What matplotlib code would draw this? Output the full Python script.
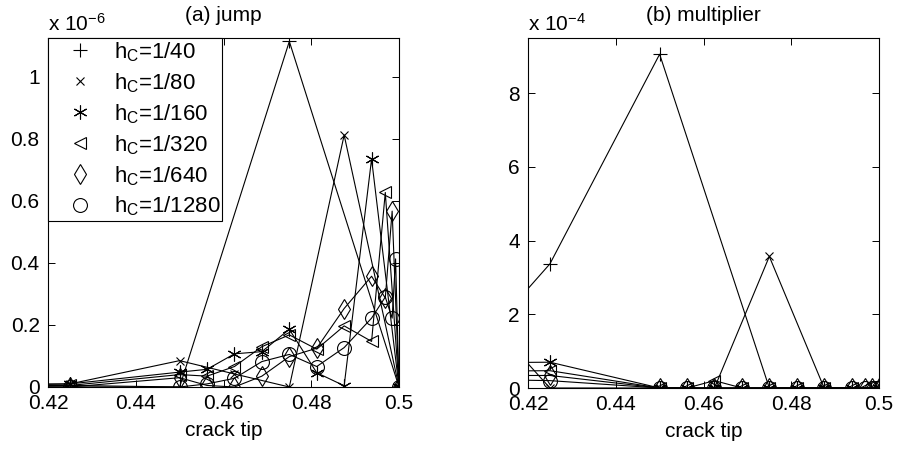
import matplotlib
matplotlib.use("Agg")
import matplotlib.pyplot as plt
from matplotlib.lines import Line2D

plt.rcParams['font.family'] = ['Liberation Sans', 'DejaVu Sans']
plt.rcParams['mathtext.fontset'] = 'custom'
plt.rcParams['mathtext.rm'] = 'Liberation Sans'
plt.rcParams['mathtext.it'] = 'Liberation Sans:italic'

# crack tip positions per mesh size
x_40 = [0.4, 0.425, 0.45, 0.475, 0.5]
x_80 = [0.4, 0.425, 0.45, 0.4625, 0.475, 0.4875, 0.5]
x_160 = [0.4, 0.425, 0.45, 0.45625, 0.4625, 0.46875, 0.475, 0.48125, 0.4875, 0.49375, 0.5]
x_320 = x_160[:-1] + [0.496875, 0.5]
x_640 = x_320[:-1] + [0.4984375, 0.5]
x_1280 = x_640[:-1] + [0.49921875, 0.5]

labels = ['h$_\\mathrm{C}$=1/40', 'h$_\\mathrm{C}$=1/80', 'h$_\\mathrm{C}$=1/160',
          'h$_\\mathrm{C}$=1/320', 'h$_\\mathrm{C}$=1/640', 'h$_\\mathrm{C}$=1/1280']

# (a) jump, units of 1e-6
jump_40 = [0.006, 0.005, 0.0, 1.114, 0.0]
jump_80 = [0.006, 0.01, 0.085, 0.042, 0.0, 0.812, 0.0]
jump_160 = [0.006, 0.01, 0.048, 0.057, 0.107, 0.114, 0.186, 0.046, 0.004, 0.735, 0.0]
jump_320 = [0.004, 0.005, 0.04, 0.035, 0.066, 0.13, 0.168, 0.122, 0.197, 0.147, 0.627, 0.0]
jump_640 = [0.002, 0.0, 0.03, 0.005, 0.0, 0.035, 0.098, 0.125, 0.253, 0.357, 0.287, 0.567, 0.0]
jump_1280 = [0.002, 0.0, 0.0, 0.01, 0.028, 0.082, 0.105, 0.066, 0.127, 0.222, 0.29, 0.222, 0.413, 0.0]

# (b) multiplier, units of 1e-4
mult_40 = [0.0, 3.37, 9.06, 0.0, 0.0]
mult_80 = [3.3, 0.0, 0.0, 0.0, 3.57, 0.0, 0.0]
mult_160 = [0.68, 0.70, 0.0, 0.0, 0.0, 0.0, 0.0, 0.0, 0.0, 0.0, 0.0]
mult_320 = [0.45, 0.47, 0.0, 0.0, 0.2, 0.0, 0.0, 0.0, 0.0, 0.0, 0.0, 0.0]
mult_640 = [0.34, 0.34, 0.0, 0.0, 0.0, 0.0, 0.0, 0.0, 0.0, 0.0, 0.0, 0.0, 0.0]
mult_1280 = [0.25, 0.2, 0.0, 0.0, 0.0, 0.0, 0.0, 0.0, 0.0, 0.0, 0.0, 0.0, 0.0, 0.0]

xs = [x_40, x_80, x_160, x_320, x_640, x_1280]
jumps = [jump_40, jump_80, jump_160, jump_320, jump_640, jump_1280]
mults = [mult_40, mult_80, mult_160, mult_320, mult_640, mult_1280]
markers = ['+', 'x', (6, 2, 0), '<', 'd', 'o']
msizes = [10, 6, 10, 9, 10, 10]

xticks = [0.42, 0.44, 0.46, 0.48, 0.5]
xticklabels = ['0.42', '0.44', '0.46', '0.48', '0.5']

FS = 15

fig = plt.figure(figsize=(8.98, 4.5), dpi=100)
ax1 = fig.add_axes([48 / 898, 63 / 450, 351 / 898, 349 / 450])
ax2 = fig.add_axes([528 / 898, 62 / 450, 351 / 898, 350 / 450])


def draw(ax, ys, ylim, yticks, yticklabels, title, expo):
    for x, y, m, s in zip(xs, ys, markers, msizes):
        ax.plot(x, y, color='black', lw=0.8, marker=m, ms=s,
                mfc='none', mec='black', mew=0.8)
    ax.set_xlim(0.42, 0.5)
    ax.set_ylim(*ylim)
    ax.set_xticks(xticks)
    ax.set_xticklabels(xticklabels)
    ax.set_yticks(yticks)
    ax.set_yticklabels(yticklabels)
    ax.tick_params(direction='in', top=True, right=True, labelsize=FS,
                   length=5, width=0.7)
    ax.tick_params(axis='x', pad=5)
    ax.tick_params(axis='y', pad=6)
    for sp in ax.spines.values():
        sp.set_linewidth(0.8)
    ax.set_xlabel('crack tip', fontsize=FS, labelpad=6)
    ax.set_title(title, fontsize=FS, pad=12)
    ax.text(0, 1.008, expo, transform=ax.transAxes, fontsize=FS,
            ha='left', va='bottom')


draw(ax1, jumps, (0, 1.125), [0, 0.2, 0.4, 0.6, 0.8, 1],
     ['0', '0.2', '0.4', '0.6', '0.8', '1'], '(a) jump', 'x 10$^{-6}$')
draw(ax2, mults, (0, 9.5), [0, 2, 4, 6, 8],
     ['0', '2', '4', '6', '8'], '(b) multiplier', 'x 10$^{-4}$')

handles = [Line2D([], [], ls='none', marker=m, ms=s, mfc='none',
                  mec='black', mew=0.8) for m, s in zip(markers, msizes)]
leg = ax1.legend(handles, labels, loc='upper left', bbox_to_anchor=(0, 1),
                 borderaxespad=0, fontsize=16, fancybox=False,
                 edgecolor='black', framealpha=1, handlelength=2.7,
                 handletextpad=0.15, labelspacing=0.33, borderpad=0.1)
leg.get_frame().set_linewidth(0.8)

fig.savefig('out.png', dpi=100)
